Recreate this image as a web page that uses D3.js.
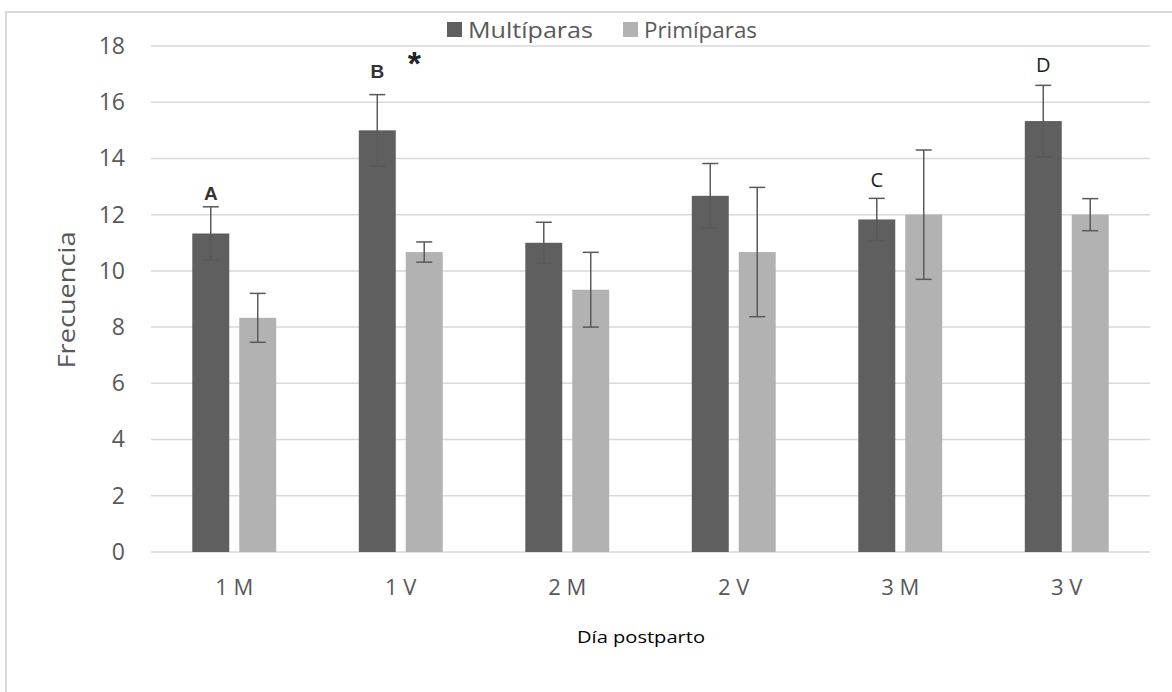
<!DOCTYPE html>
<html>
<head>
<meta charset="utf-8">
<script src="https://cdn.jsdelivr.net/npm/d3@7"></script>
<style>
  body { margin: 0; background: #fff; }
  svg text { font-family: "Open Sans", "Noto Sans", sans-serif; }
</style>
</head>
<body>
<div id="chart"></div>
<script>
const categories = ['1 M', '1 V', '2 M', '2 V', '3 M', '3 V'];
const seriesNames = ['Multíparas', 'Primíparas'];
const multiparas = [11.33, 15, 11, 12.67, 11.83, 15.33];
const multiparasErr = [0.95, 1.27, 0.73, 1.15, 0.75, 1.27];
const primiparas = [8.33, 10.67, 9.33, 10.67, 12, 12];
const primiparasErr = [0.87, 0.36, 1.33, 2.3, 2.3, 0.57];
const letters = ['A', 'B', '', '', 'C', 'D'];
const yTicks = [0, 2, 4, 6, 8, 10, 12, 14, 16, 18];

const colors = ['#5f5f5f', '#b2b2b2'];
const width = 1172, height = 692;
const margin = { top: 46, right: 22, bottom: 140, left: 151 };

const svg = d3.select('#chart')
    .append('svg')
    .attr('width', width)
    .attr('height', height);

// frame (only top and left edges visible in the original)
svg.append('path')
    .attr('d', `M6,${height} V12 H${width}`)
    .attr('fill', 'none')
    .attr('stroke', '#d9d9d9')
    .attr('stroke-width', 2);

const x = d3.scaleBand()
    .domain(categories)
    .range([margin.left, width - margin.right]);

const y = d3.scaleLinear()
    .domain([0, 18])
    .range([height - margin.bottom, margin.top]);

// gridlines
svg.append('g')
    .selectAll('line')
    .data(yTicks)
    .enter()
    .append('line')
    .attr('x1', margin.left)
    .attr('x2', width - margin.right)
    .attr('y1', d => y(d))
    .attr('y2', d => y(d))
    .attr('stroke', '#d9d9d9')
    .attr('stroke-width', 1.5);

// y axis labels
const yAxis = d3.axisLeft(y).tickValues(yTicks).tickSize(0).tickPadding(26);
svg.append('g')
    .attr('transform', `translate(${margin.left},0)`)
    .call(yAxis)
    .call(g => g.select('.domain').remove())
    .selectAll('text')
    .attr('fill', '#595959')
    .style('font-size', '23px');

// x axis labels
const xAxis = d3.axisBottom(x).tickSize(0).tickPadding(27);
svg.append('g')
    .attr('transform', `translate(0,${y(0)})`)
    .call(xAxis)
    .call(g => g.select('.domain').remove())
    .selectAll('text')
    .attr('fill', '#595959')
    .style('font-size', '22px');

const barW = x.bandwidth() * 0.222;
const inner = x.bandwidth() * 0.06;

const data = categories.map((c, i) => ({
    cat: c,
    vals: [
        { s: 0, v: multiparas[i], e: multiparasErr[i] },
        { s: 1, v: primiparas[i], e: primiparasErr[i] }
    ]
}));

const xPos = (cat, s) => {
    const mid = x(cat) + x.bandwidth() / 2;
    return s === 0 ? mid - inner / 2 - barW : mid + inner / 2;
};

const groups = svg.append('g')
    .selectAll('g')
    .data(data)
    .enter()
    .append('g');

groups.selectAll('rect')
    .data(d => d.vals.map(v => ({ ...v, cat: d.cat })))
    .enter()
    .append('rect')
    .attr('x', d => xPos(d.cat, d.s))
    .attr('y', d => y(d.v))
    .attr('width', barW)
    .attr('height', d => y(0) - y(d.v))
    .attr('fill', d => colors[d.s]);

// error bars
const err = groups.selectAll('g.err')
    .data(d => d.vals.map(v => ({ ...v, cat: d.cat })))
    .enter()
    .append('g')
    .attr('stroke', '#595959')
    .attr('stroke-width', 1.5);

err.append('line')
    .attr('x1', d => xPos(d.cat, d.s) + barW / 2)
    .attr('x2', d => xPos(d.cat, d.s) + barW / 2)
    .attr('y1', d => y(d.v + d.e))
    .attr('y2', d => y(d.v - d.e));
[1, -1].forEach(sign => {
    err.append('line')
        .attr('x1', d => xPos(d.cat, d.s) + barW / 2 - 8)
        .attr('x2', d => xPos(d.cat, d.s) + barW / 2 + 8)
        .attr('y1', d => y(d.v + sign * d.e))
        .attr('y2', d => y(d.v + sign * d.e));
});

// significance letters above the Multíparas bars
const letterGap = [7, 17, 0, 0, 11, 13];
letters.forEach((l, i) => {
    if (!l) return;
    const cx = xPos(categories[i], 0) + barW / 2;
    const top = y(multiparas[i] + multiparasErr[i]);
    const arial = (l === 'A' || l === 'B');
    svg.append('text')
        .attr('x', cx)
        .attr('y', top - letterGap[i])
        .attr('text-anchor', 'middle')
        .style('font-family', arial ? 'Liberation Sans, Arial, sans-serif' : null)
        .style('font-size', arial ? '19px' : '20px')
        .style('font-weight', arial ? 'bold' : null)
        .attr('fill', arial ? '#333' : '#222')
        .text(l);
});

// asterisk next to the B
svg.append('text')
    .attr('x', xPos(categories[1], 0) + barW / 2 + 37)
    .attr('y', y(multiparas[1] + multiparasErr[1]) - 20)
    .attr('text-anchor', 'middle')
    .style('font-family', 'Liberation Sans, Arial, sans-serif')
    .style('font-size', '34px')
    .style('font-weight', 'bold')
    .attr('fill', '#222')
    .text('*');

// legend
const legend = svg.append('g').attr('transform', 'translate(447,30)');
const legX = [0, 176];
const legW = [125, 113];
seriesNames.forEach((n, i) => {
    legend.append('rect')
        .attr('x', legX[i])
        .attr('y', -8)
        .attr('width', 15)
        .attr('height', 15)
        .attr('fill', colors[i]);
    legend.append('text')
        .attr('x', legX[i] + 21)
        .attr('y', 0)
        .attr('dy', '0.35em')
        .attr('fill', '#595959')
        .attr('textLength', legW[i])
        .attr('lengthAdjust', 'spacingAndGlyphs')
        .style('font-size', '22px')
        .text(n);
});

// axis titles
svg.append('text')
    .attr('transform', `translate(75,${(y(0) + y(18)) / 2 + 1}) rotate(-90)`)
    .attr('text-anchor', 'middle')
    .attr('fill', '#595959')
    .attr('textLength', 137)
    .attr('lengthAdjust', 'spacingAndGlyphs')
    .style('font-size', '24px')
    .text('Frecuencia');

svg.append('text')
    .attr('x', 641)
    .attr('y', 643)
    .attr('text-anchor', 'middle')
    .attr('fill', '#000')
    .attr('textLength', 128)
    .attr('lengthAdjust', 'spacingAndGlyphs')
    .style('font-size', '17px')
    .text('Día postparto');
</script>
</body>
</html>
